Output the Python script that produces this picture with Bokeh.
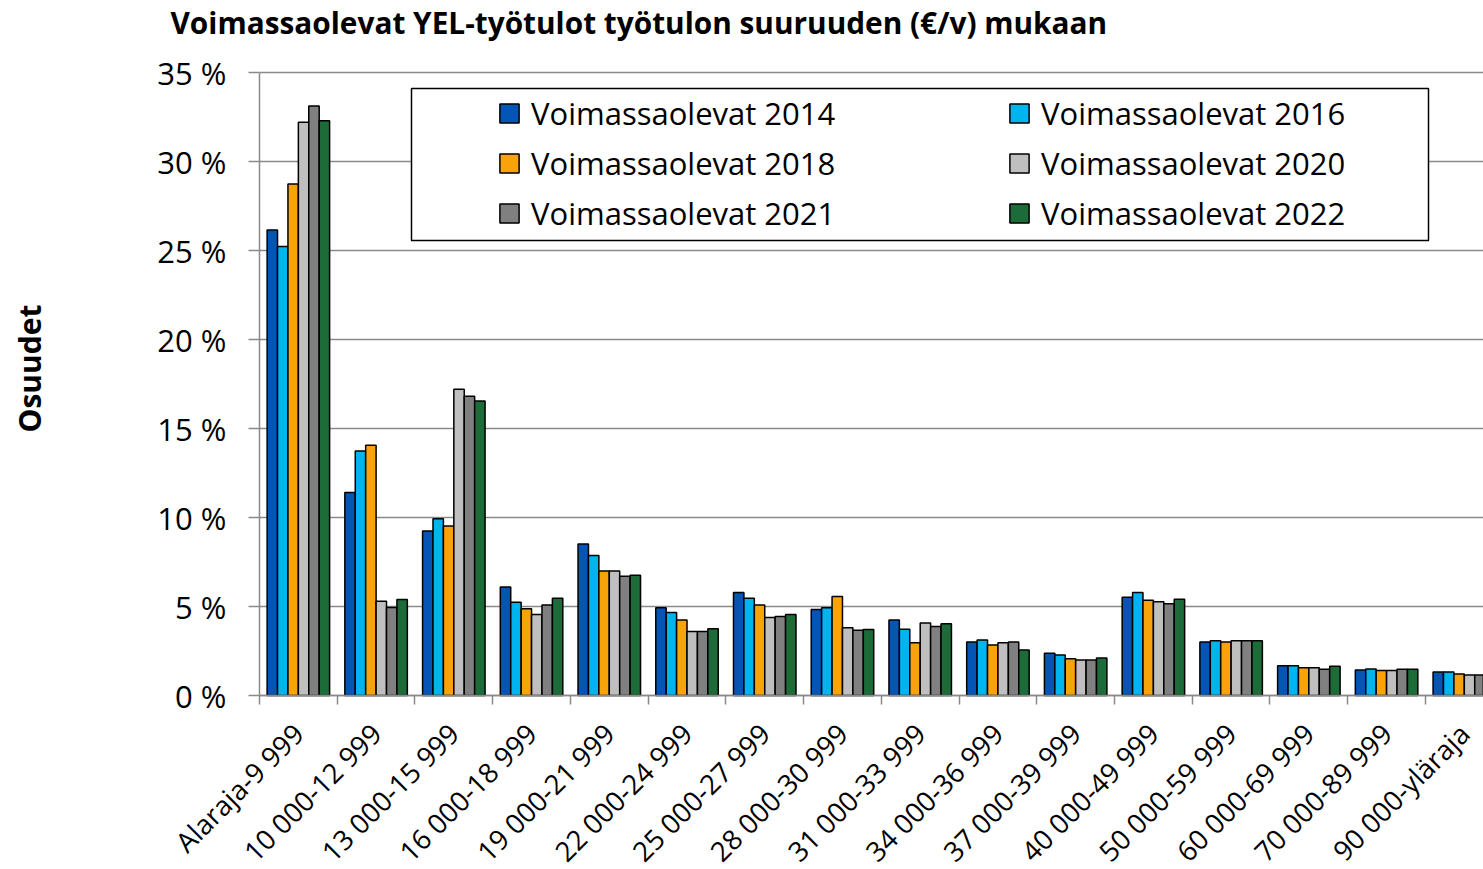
import math
from bokeh.plotting import figure
from bokeh.models import (ColumnDataSource, Range1d, FixedTicker, PrintfTickFormatter,
                          Legend, LegendItem, BoxAnnotation, Label)
from bokeh.transform import dodge
from bokeh.embed import file_html
from bokeh.resources import INLINE

categories = ["Alaraja-9 999", "10 000-12 999", "13 000-15 999", "16 000-18 999",
              "19 000-21 999", "22 000-24 999", "25 000-27 999", "28 000-30 999",
              "31 000-33 999", "34 000-36 999", "37 000-39 999", "40 000-49 999",
              "50 000-59 999", "60 000-69 999", "70 000-89 999", "90 000-yläraja"]

series_names = ["Voimassaolevat 2014", "Voimassaolevat 2016", "Voimassaolevat 2018",
                "Voimassaolevat 2020", "Voimassaolevat 2021", "Voimassaolevat 2022"]

v2014 = [26.15, 11.4, 9.24, 6.1, 8.51, 4.93, 5.78, 4.83, 4.24, 3.01, 2.38, 5.52, 3.01, 1.67, 1.43, 1.32]
v2016 = [25.23, 13.74, 9.93, 5.24, 7.87, 4.66, 5.47, 4.93, 3.72, 3.12, 2.27, 5.78, 3.07, 1.67, 1.49, 1.32]
v2018 = [28.74, 14.06, 9.52, 4.87, 7.0, 4.24, 5.09, 5.56, 2.97, 2.84, 2.06, 5.35, 3.01, 1.56, 1.41, 1.21]
v2020 = [32.2, 5.3, 17.2, 4.55, 7.0, 3.6, 4.38, 3.81, 4.07, 2.97, 1.99, 5.26, 3.07, 1.56, 1.41, 1.15]
v2021 = [33.12, 4.95, 16.81, 5.09, 6.7, 3.6, 4.44, 3.66, 3.87, 3.01, 1.99, 5.15, 3.07, 1.47, 1.47, 1.15]
v2022 = [32.29, 5.39, 16.54, 5.47, 6.75, 3.75, 4.55, 3.71, 4.03, 2.55, 2.1, 5.41, 3.07, 1.64, 1.47, 1.15]

y_ticks = [0, 5, 10, 15, 20, 25, 30, 35]

title_text = "Voimassaolevat YEL-työtulot työtulon suuruuden (€/v) mukaan"
y_title = "Osuudet"

colors = ["#0455B5", "#00B4F0", "#F9A30A", "#BFBFBF", "#808080", "#1C6B38"]
series_values = [v2014, v2016, v2018, v2020, v2021, v2022]
keys = ["y2014", "y2016", "y2018", "y2020", "y2021", "y2022"]

FONT = "Open Sans"
GRID = "#8A8A8A"

# ---- layout (pixels): the frame covers the whole canvas, axes sit at fixed spots
FIG_W, FIG_H = 1483, 868
AXIS_X = 259          # pixel column of the value axis
ZERO_Y = 695          # pixel row of 0 %
TOP_Y = 72            # pixel row of 35 %
CAT_W = 77.73         # pixels per category
Y_MAX = 35
PX = (ZERO_Y - TOP_Y) / Y_MAX

n = len(categories)
x_lo = -AXIS_X / CAT_W
x_hi = (FIG_W - AXIS_X) / CAT_W
y_lo = -(FIG_H - ZERO_Y) / PX
y_hi = Y_MAX + TOP_Y / PX

xc = [i + 0.5 for i in range(n)]
data = {"x": xc}
for k, vals in zip(keys, series_values):
    data[k] = vals
src = ColumnDataSource(data)

p = figure(width=FIG_W, height=FIG_H, output_backend="svg", toolbar_location=None,
           x_range=Range1d(x_lo, x_hi), y_range=Range1d(y_lo, y_hi),
           min_border_left=0, min_border_right=0, min_border_top=0,
           min_border_bottom=0, title_location=None)
p.outline_line_color = None
p.background_fill_color = "white"
p.border_fill_color = "white"

# horizontal gridlines, only across the plotting area
grid_src = ColumnDataSource(dict(y=y_ticks, x0=[0] * len(y_ticks), x1=[x_hi] * len(y_ticks)))
p.segment(x0="x0", x1="x1", y0="y", y1="y", source=grid_src,
          line_color=GRID, line_width=1.5)

# title and value-axis title
p.add_layout(Label(x=170, y=FIG_H - 22, x_units="screen", y_units="screen",
                   text=title_text, text_font=FONT, text_font_style="bold",
                   text_font_size="29.8px", text_color="black",
                   text_align="left", text_baseline="middle"))
p.add_layout(Label(x=29, y=FIG_H - 368, x_units="screen", y_units="screen",
                   text=y_title, angle=math.pi / 2, text_font=FONT,
                   text_font_style="bold", text_font_size="30px", text_color="black",
                   text_align="center", text_baseline="middle"))

# legend frame
p.add_layout(BoxAnnotation(left=411, right=1428, bottom=FIG_H - 240, top=FIG_H - 88,
                           left_units="screen", right_units="screen",
                           top_units="screen", bottom_units="screen",
                           fill_color="white", fill_alpha=1.0,
                           line_color="black", line_alpha=1.0, line_width=1.5))

w = 0.134
items = []
for j, (k, name, c) in enumerate(zip(keys, series_names, colors)):
    r = p.vbar(x=dodge("x", (j - 2.5) * w, range=p.x_range), top=k, width=w, bottom=0,
               source=src, fill_color=c, line_color="black", line_width=1.5)
    items.append(LegendItem(label=name, renderers=[r]))

legend = Legend(items=items, location=(AXIS_X + 238, FIG_H - 234),
                orientation="horizontal", ncols=2,
                glyph_width=24, glyph_height=24, label_standoff=10, label_width=468,
                label_height=40, spacing=8, padding=0, margin=0,
                border_line_color=None, background_fill_alpha=0,
                label_text_font=FONT, label_text_font_size="31px",
                label_text_color="black")
p.add_layout(legend, "center")

# category axis at 0 %: names at category centres, ticks at the boundaries
p.xaxis.ticker = FixedTicker(ticks=xc, minor_ticks=list(range(n + 1)))
p.xaxis.major_label_overrides = {x: lab for x, lab in zip(xc, categories)}
p.xaxis.fixed_location = 0
p.xaxis.bounds = (0, x_hi)
p.xaxis.major_tick_out = 0
p.xaxis.major_tick_in = 0
p.xaxis.minor_tick_out = 9
p.xaxis.minor_tick_in = 0
p.xaxis.minor_tick_line_color = GRID
p.xaxis.minor_tick_line_width = 1.5
p.xaxis.axis_line_color = GRID
p.xaxis.axis_line_width = 1.5
p.xaxis.major_label_orientation = math.pi / 4
p.xaxis.major_label_text_font = FONT
p.xaxis.major_label_text_font_size = "27.5px"
p.xaxis.major_label_text_color = "black"
p.xaxis.major_label_standoff = 24

# value axis
yt = FixedTicker(ticks=y_ticks, minor_ticks=[])
p.yaxis.ticker = yt
p.yaxis.fixed_location = 0
p.yaxis.bounds = (0, Y_MAX)
p.yaxis.formatter = PrintfTickFormatter(format="%d %%")
p.yaxis.major_tick_out = 11
p.yaxis.major_tick_in = 0
p.yaxis.minor_tick_out = 0
p.yaxis.minor_tick_in = 0
p.yaxis.major_tick_line_color = GRID
p.yaxis.major_tick_line_width = 1.5
p.yaxis.axis_line_color = GRID
p.yaxis.axis_line_width = 1.5
p.yaxis.major_label_text_font = FONT
p.yaxis.major_label_text_font_size = "31px"
p.yaxis.major_label_text_color = "black"
p.yaxis.major_label_standoff = 22

p.xgrid.grid_line_color = None
p.ygrid.grid_line_color = None

open("out.html", "w").write(file_html(p, INLINE))
